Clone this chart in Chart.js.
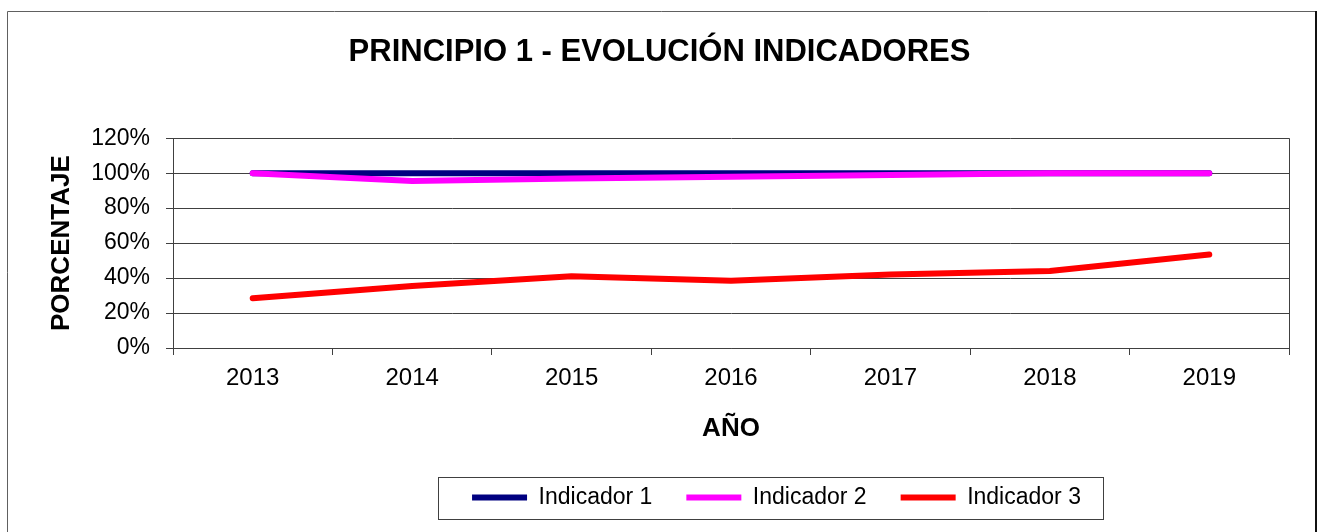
<!DOCTYPE html>
<html>
<head>
<meta charset="utf-8">
<script src="https://cdn.jsdelivr.net/npm/chart.js@4/dist/chart.umd.min.js"></script>
<style>
html,body{margin:0;padding:0;background:#fff;}
#wrap{position:absolute;left:0;top:0;width:1320px;height:532px;}
</style>
</head>
<body>
<div id="wrap"><canvas id="c" width="1320" height="532"></canvas></div>
<script>
const years = ['2013','2014','2015','2016','2017','2018','2019'];
const indicador1 = [100, 100, 100, 100, 100, 100, 100];
const indicador2 = [100, 95.5, 97, 98, 99, 100, 100];
const indicador3 = [28.5, 35.5, 41, 38.5, 42, 44, 53.5];
const seriesNames = ['Indicador 1', 'Indicador 2', 'Indicador 3'];
const seriesColors = ['#000080', '#FF00FF', '#FF0000'];
const chartTitle = 'PRINCIPIO 1 - EVOLUCIÓN INDICADORES';
const yTitle = 'PORCENTAJE';
const xTitle = 'AÑO';

const FONT = "'Liberation Sans', Arial, sans-serif";
const LEGEND_SHIFT = 117;
const LEG_PAD = 34;

const framePlugin = {
  id: 'frame',
  beforeDraw(chart) {
    const ctx = chart.ctx;
    ctx.save();
    ctx.strokeStyle = '#606060';
    ctx.lineWidth = 1;
    ctx.beginPath();
    ctx.moveTo(7.5, 600); ctx.lineTo(7.5, 11.5); ctx.lineTo(1316, 11.5);
    ctx.stroke();
    ctx.strokeStyle = '#111';
    ctx.lineWidth = 2;
    ctx.beginPath();
    ctx.moveTo(1316, 11); ctx.lineTo(1316, 600);
    ctx.stroke();
    ctx.restore();
  },
  beforeDatasetsDraw(chart) {
    const {ctx, chartArea} = chart;
    ctx.save();
    ctx.strokeStyle = '#404040';
    ctx.lineWidth = 1;
    ctx.beginPath();
    ctx.moveTo(Math.round(chartArea.right) + 0.5, chartArea.top);
    ctx.lineTo(Math.round(chartArea.right) + 0.5, chartArea.bottom);
    ctx.stroke();
    ctx.restore();
  },
  afterLayout(chart) {
    const lg = chart.legend;
    if (lg) { lg.left += LEGEND_SHIFT; lg.right += LEGEND_SHIFT; }
  },
  afterDraw(chart) {
    const lg = chart.legend;
    if (!lg || !lg.lineWidths) return;
    const ctx = chart.ctx;
    const lw = lg.lineWidths[0];
    const start = (lg.left + LEG_PAD + lg.right - lw) / 2;
    const end = start + lw - LEG_PAD;
    const cy = lg.top + LEG_PAD + 23 / 2;
    ctx.save();
    ctx.strokeStyle = '#404040';
    ctx.lineWidth = 1;
    ctx.strokeRect(Math.round(start - 34) + 0.5, Math.round(cy - 21) + 0.5, Math.round(end - start + 56), 42);
    ctx.restore();
  }
};

new Chart(document.getElementById('c'), {
  type: 'line',
  data: {
    labels: years,
    datasets: [
      {label: seriesNames[0], data: indicador1, borderColor: seriesColors[0], backgroundColor: seriesColors[0], order: 1},
      {label: seriesNames[1], data: indicador2, borderColor: seriesColors[1], backgroundColor: seriesColors[1], order: 0},
      {label: seriesNames[2], data: indicador3, borderColor: seriesColors[2], backgroundColor: seriesColors[2], order: 2}
    ].map(d => Object.assign(d, {borderWidth: 6, pointRadius: 0, pointHoverRadius: 0, tension: 0, borderCapStyle: 'round', borderJoinStyle: 'round', fill: false}))
  },
  options: {
    responsive: false,
    animation: false,
    events: [],
    layout: {padding: {left: 30, right: 31, top: 20, bottom: 13}},
    plugins: {
      tooltip: {enabled: false},
      title: {
        display: true,
        text: chartTitle,
        color: '#000',
        font: {family: FONT, size: 31, weight: 'bold'},
        padding: {top: 14, bottom: 67}
      },
      legend: {
        position: 'bottom',
        labels: {
          usePointStyle: true,
          pointStyle: 'line',
          pointStyleWidth: 55,
          padding: LEG_PAD,
          color: '#000',
          font: {family: FONT, size: 23},
          sort: (a, b) => a.datasetIndex - b.datasetIndex
        }
      }
    },
    scales: {
      x: {
        type: 'category',
        offset: true,
        grid: {display: true, offset: true, drawOnChartArea: false, drawTicks: true, tickLength: 7, color: '#404040'},
        border: {display: true, color: '#404040', width: 1},
        ticks: {color: '#000', font: {family: FONT, size: 24}, padding: 9, maxRotation: 0, autoSkip: false},
        title: {display: true, text: xTitle, color: '#000', font: {family: FONT, size: 26, weight: 'bold'}, padding: {top: 0, bottom: 8}},
        afterFit(scale) { scale.height = 104; }
      },
      y: {
        min: 0,
        max: 120,
        ticks: {stepSize: 20, color: '#000', font: {family: FONT, size: 23}, padding: 16, callback: v => v + '%'},
        grid: {color: '#404040', lineWidth: 1, tickLength: 7, drawTicks: true},
        border: {display: true, color: '#404040', width: 1},
        title: {display: true, text: yTitle, color: '#000', font: {family: FONT, size: 26, weight: 'bold'}, padding: {top: 16, bottom: 0}},
        afterFit(scale) { scale.width = 143; }
      }
    }
  },
  plugins: [framePlugin]
});
</script>
</body>
</html>
